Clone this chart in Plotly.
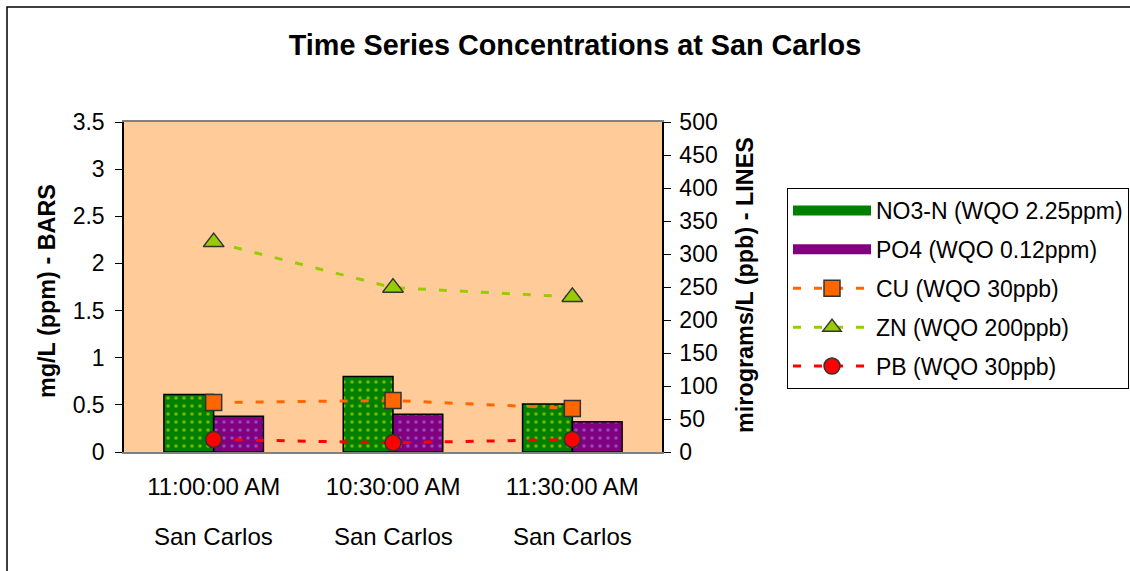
import plotly.graph_objects as go

times = ["11:00:00 AM", "10:30:00 AM", "11:30:00 AM"]
sites = ["San Carlos", "San Carlos", "San Carlos"]
no3 = [0.61, 0.80, 0.51]
po4 = [0.38, 0.40, 0.32]
cu = [75, 78, 66]
zn = [318, 249, 235]
pb = [19, 14, 19]

FONT = "Liberation Sans, Arial, sans-serif"
W, H = 1130, 571
L, R, T, B = 124, 662, 122, 452

def px_x(px):
    return (px - L) / (R - L)

def px_y(py):
    return (B - py) / (B - T)

GREEN, PURPLE = "#008000", "#800080"

fig = go.Figure()
fig.add_trace(go.Bar(
    x=times, y=no3, name="NO3-N (WQO 2.25ppm)", showlegend=False,
    marker=dict(color=GREEN, line=dict(color="black", width=1.5),
                pattern=dict(shape=".", size=8, solidity=0.16,
                             fgcolor="#E8F000", bgcolor=GREEN)),
))
fig.add_trace(go.Bar(
    x=times, y=po4, name="PO4 (WQO 0.12ppm)", showlegend=False,
    marker=dict(color=PURPLE, line=dict(color="black", width=1.5),
                pattern=dict(shape=".", size=8, solidity=0.16,
                             fgcolor="#A890FF", bgcolor=PURPLE)),
))
# legend entries for the bars (wide swatches like the original)
for name, col, grp in [("NO3-N (WQO 2.25ppm)", GREEN, "a"),
                       ("PO4 (WQO 0.12ppm)", PURPLE, "b")]:
    fig.add_trace(go.Scatter(
        x=[None], y=[None], name=name, mode="lines", legendgroup=grp,
        line=dict(color=col, width=13), hoverinfo="skip",
    ))

line_specs = [
    (cu, "CU (WQO 30ppb)", "#FF6600", "square", 16, "c"),
    (zn, "ZN (WQO 200ppb)", "#99CC00", "triangle-up", 18, "d"),
    (pb, "PB (WQO 30ppb)", "#FF0000", "circle", 16, "e"),
]
for vals, name, col, sym, sz, grp in line_specs:
    fig.add_trace(go.Scatter(
        x=times, y=vals, name=name, yaxis="y2", mode="lines+markers",
        legendgroup=grp,
        line=dict(color=col, width=3, dash="8px,13px"),
        marker=dict(symbol=sym, size=sz, color=col,
                    line=dict(color="#333333", width=1.5)),
    ))

annotations = [
    dict(text="<b>mg/L (ppm) - BARS</b>", textangle=-90,
         x=px_x(47), y=px_y(291), xref="paper", yref="paper",
         xanchor="center", yanchor="middle",
         showarrow=False, font=dict(size=23.4)),
    dict(text="<b>mirograms/L (ppb) - LINES</b>", textangle=-90,
         x=px_x(745), y=px_y(285), xref="paper", yref="paper",
         xanchor="center", yanchor="middle",
         showarrow=False, font=dict(size=23.4)),
]
for t, s in zip(times, sites):
    annotations.append(dict(text=s, x=t, xref="x", y=px_y(536), yref="paper",
                            yanchor="middle", showarrow=False,
                            font=dict(size=24)))

fig.update_layout(
    width=W, height=H,
    margin=dict(l=L, r=W - R, t=T, b=H - B, pad=0, autoexpand=False),
    paper_bgcolor="white",
    plot_bgcolor="#FFCC99",
    font=dict(family=FONT, size=23, color="black"),
    barmode="group", bargap=0.445, bargroupgap=0,
    title=dict(text="<b>Time Series Concentrations at San Carlos</b>",
               x=575 / W, xanchor="center", xref="container",
               y=1 - 45 / H, yanchor="middle", yref="container",
               font=dict(size=28.8, family=FONT)),
    xaxis=dict(
        type="category", tickmode="array", tickvals=times, ticktext=times,
        showline=True, linecolor="#808080", linewidth=1.5, mirror=True,
        ticks="", showgrid=False, zeroline=False,
        tickfont=dict(size=24), ticklabelstandoff=12,
    ),
    yaxis=dict(
        range=[0, 3.5], dtick=0.5, showgrid=False, zeroline=False,
        showline=True, linecolor="black", linewidth=1.5,
        ticks="outside", ticklen=7, tickcolor="black",
        tickfont=dict(size=23), ticklabelstandoff=6,
    ),
    yaxis2=dict(
        range=[0, 500], dtick=50, overlaying="y", side="right",
        showgrid=False, zeroline=False,
        showline=True, linecolor="black", linewidth=1.5,
        ticks="outside", ticklen=7, tickcolor="black",
        tickfont=dict(size=23), ticklabelstandoff=4,
    ),
    # inner half of the crossing tick marks on the right axis
    yaxis3=dict(
        range=[0, 500], dtick=50, overlaying="y", side="right", anchor="x",
        showgrid=False, zeroline=False, showline=False,
        ticks="inside", ticklen=7, tickcolor="black", tickwidth=1,
        showticklabels=False,
    ),
    legend=dict(
        x=px_x(787), y=px_y(188), xanchor="left", yanchor="top",
        bordercolor="black", borderwidth=1, bgcolor="white",
        font=dict(size=23), traceorder="grouped", tracegroupgap=6,
        itemwidth=78,
    ),
    annotations=annotations,
    shapes=[
        dict(type="rect", xref="paper", yref="paper",
             x0=px_x(7), x1=px_x(1160), y0=px_y(600), y1=px_y(7),
             line=dict(color="black", width=1.5), fillcolor="rgba(0,0,0,0)",
             layer="below"),
    ],
)

fig.write_html(
    "out.html",
    config={"displayModeBar": False},
    post_script="document.body.style.margin='0';"
                "document.body.style.overflow='hidden';",
)
